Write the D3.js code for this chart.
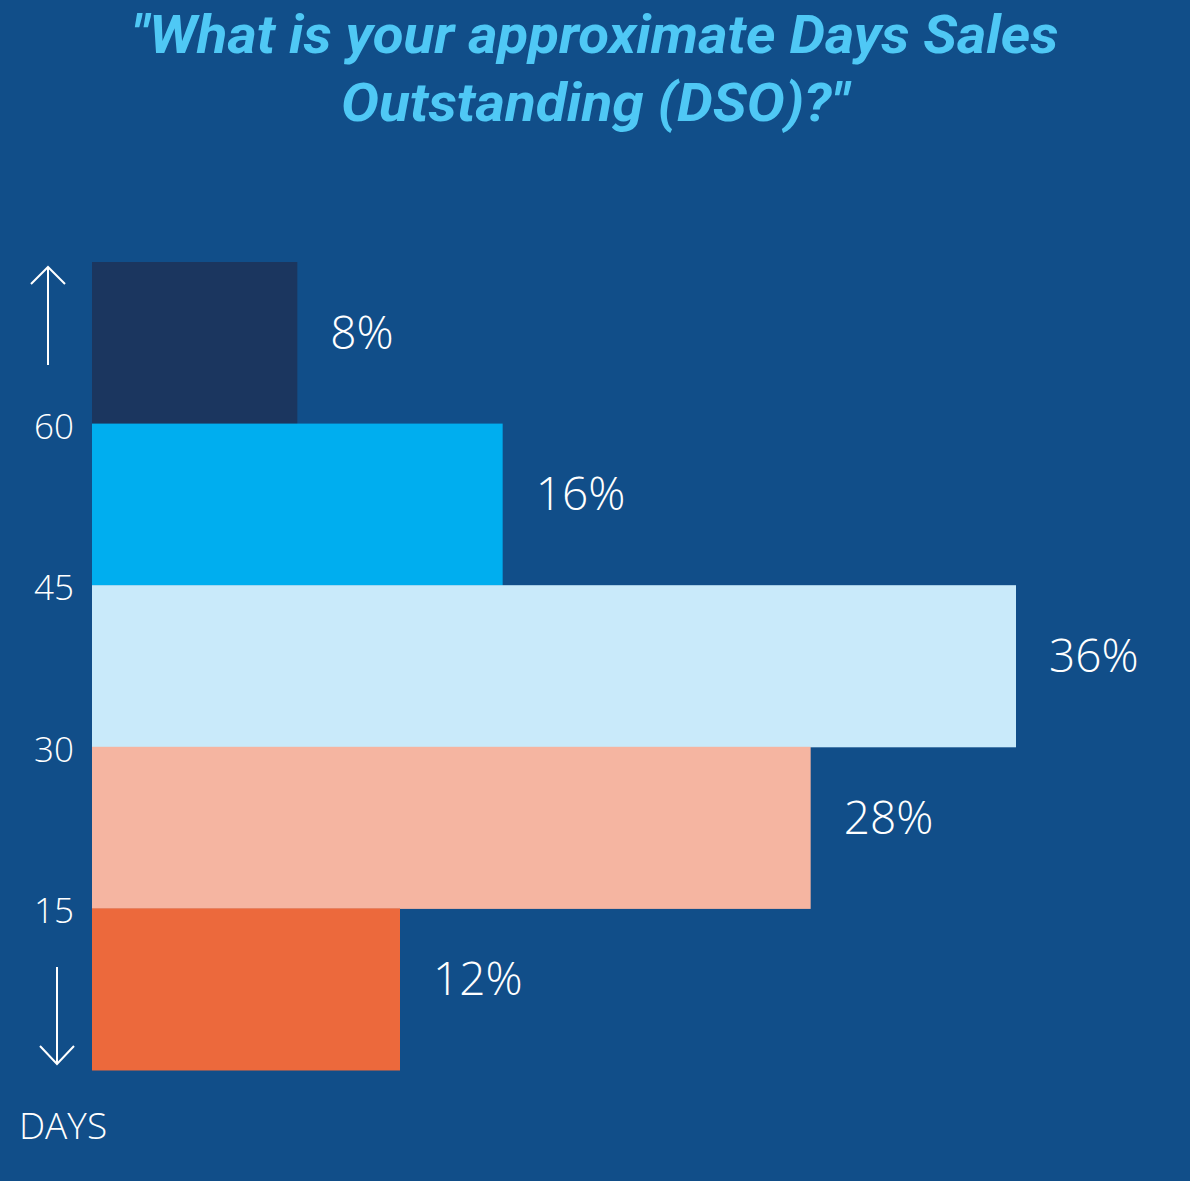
<!DOCTYPE html>
<html>
<head>
<meta charset="utf-8">
<script src="https://cdn.jsdelivr.net/npm/d3@7"></script>
<style>
  html, body { margin: 0; padding: 0; background: #114e89; }
  svg { display: block; }
</style>
</head>
<body>
<div id="chart"></div>
<script>
// ---- data ----
const categories = [">60", "45-60", "30-45", "15-30", "<15"];
const values = [8, 16, 36, 28, 12];
const barColors = ["#1b365f", "#00aeef", "#c9eafa", "#f5b5a1", "#ec693c"];
const tickLabels = ["60", "45", "30", "15"];
const titleLines = ["\"What is your approximate Days Sales", "Outstanding (DSO)?\""];
const axisLabel = "DAYS";

const W = 1190, H = 1181;
const svg = d3.select("#chart").append("svg").attr("width", W).attr("height", H);
svg.append("rect").attr("width", W).attr("height", H).attr("fill", "#114e89");

// title
const titleLens = [927, 508];
const titleY = [53, 121];
svg.selectAll("text.title").data(titleLines).join("text")
  .attr("class", "title")
  .attr("x", 595)
  .attr("y", (d, i) => titleY[i])
  .attr("text-anchor", "middle")
  .attr("font-family", "Roboto, sans-serif")
  .attr("font-weight", 700)
  .attr("font-style", "italic")
  .attr("font-size", 54)
  .attr("fill", "#4fc8f5")
  .attr("textLength", (d, i) => titleLens[i])
  .attr("lengthAdjust", "spacingAndGlyphs")
  .text(d => d);

// scales
const y = d3.scaleBand().domain(categories).range([262, 1070]).padding(0);
const x = d3.scaleLinear().domain([0, 36]).range([92, 1016]);

// bars
svg.selectAll("rect.bar").data(values).join("rect")
  .attr("class", "bar")
  .attr("x", x(0))
  .attr("y", (d, i) => y(categories[i]))
  .attr("width", d => x(d) - x(0))
  .attr("height", y.bandwidth() + 0.5)
  .attr("fill", (d, i) => barColors[i]);

const labelFont = "'Open Sans', 'Lato', sans-serif";

// value labels
svg.selectAll("text.val").data(values).join("text")
  .attr("class", "val")
  .attr("x", d => x(d) + 33)
  .attr("y", (d, i) => y(categories[i]) + y.bandwidth() / 2 + 6)
  .attr("font-family", labelFont)
  .attr("font-weight", 300)
  .attr("font-size", 46)
  .attr("fill", "#ffffff")
  .text(d => d + "%");

// tick labels at band boundaries
svg.selectAll("text.tick").data(tickLabels).join("text")
  .attr("class", "tick")
  .attr("x", 74)
  .attr("y", (d, i) => y(categories[i + 1]) + 15)
  .attr("text-anchor", "end")
  .attr("font-family", labelFont)
  .attr("font-weight", 300)
  .attr("font-size", 35)
  .attr("fill", "#ffffff")
  .text(d => d);

// arrows
const arrowG = svg.append("g").attr("stroke", "#ffffff").attr("stroke-width", 2).attr("fill", "none");
arrowG.append("path").attr("d", "M48,365 L48,267 M31,284 L48,267 L65,284");
arrowG.append("path").attr("d", "M57,967 L57,1064 M40,1046 L57,1064 L74,1046");

// axis label
svg.append("text")
  .attr("x", 19)
  .attr("y", 1139)
  .attr("font-family", labelFont)
  .attr("font-weight", 300)
  .attr("font-size", 37)
  .attr("fill", "#ffffff")
  .text(axisLabel);
</script>
</body>
</html>
